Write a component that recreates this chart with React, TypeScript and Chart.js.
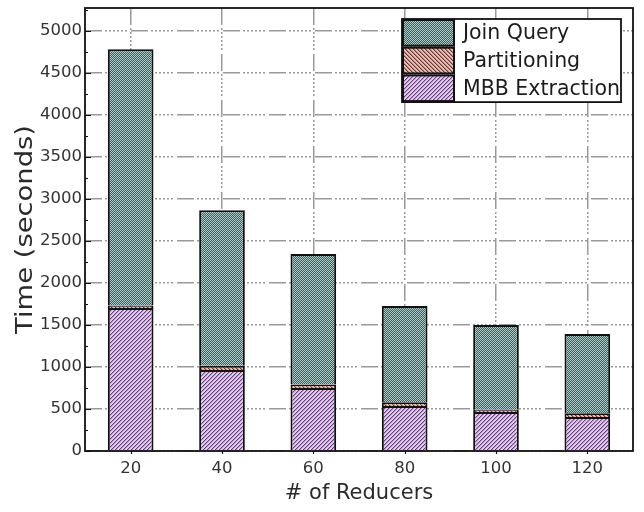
import { useEffect, useRef } from 'react';
import { Chart, registerables } from 'chart.js';

Chart.register(...registerables);

// Number of reducers on the x axis
const reducers = ['20', '40', '60', '80', '100', '120'];

// Stacked time components, in seconds
const mbbExtraction = [1700, 965, 750, 535, 465, 405];
const partitioning = [30, 50, 40, 45, 25, 45];
const joinQuery = [3050, 1850, 1555, 1146, 1010, 943];

// Value axis
const yTickValues = [0, 500, 1000, 1500, 2000, 2500, 3000, 3500, 4000, 4500, 5000];
const Y_MAX = 5270;
const Y_MINOR_STEP = 250;
const Y_TITLE = 'Time (seconds)';
const X_TITLE = '# of Reducers';

const FONT_FAMILY = "'DejaVu Sans', 'Liberation Sans', Arial, sans-serif";
const GRID_DASH = [17, 3, 2, 2, 2, 2, 2, 2, 2, 2, 2, 2, 2, 4];

Chart.defaults.font.family = FONT_FAMILY;
Chart.defaults.font.size = 16.5;

type PixelFn = (x: number, y: number) => string;

function makePattern(size: number, pixel: PixelFn): CanvasPattern {
  const c = document.createElement('canvas');
  c.width = size;
  c.height = size;
  const g = c.getContext('2d')!;
  for (let y = 0; y < size; y++) {
    for (let x = 0; x < size; x++) {
      g.fillStyle = pixel(x, y);
      g.fillRect(x, y, 1, 1);
    }
  }
  return g.createPattern(c, 'repeat')!;
}

export default function App() {
  const canvasRef = useRef<HTMLCanvasElement>(null);

  useEffect(() => {
    const canvas = canvasRef.current;
    if (!canvas) return;

    // Fill patterns: dotted teal, back-hatched salmon, forward-hatched lavender
    const joinFill = makePattern(2, (x, y) => ((x + y) % 2 === 0 ? '#a6d0cb' : '#475a59'));
    const partFill = makePattern(4, (x, y) => {
      const k = (((x - y) % 4) + 4) % 4;
      return k === 0 ? '#5a3a36' : k === 1 ? '#b0827a' : '#eebcb2';
    });
    const mbbFill = makePattern(4, (x, y) => {
      const k = (x + y) % 4;
      return k === 0 ? '#5e4270' : k === 1 ? '#b898c8' : '#e4c8f2';
    });

    const legendItems = [
      { text: 'Join Query', fill: joinFill },
      { text: 'Partitioning', fill: partFill },
      { text: 'MBB Extraction', fill: mbbFill },
    ];

    const framePlugin = {
      id: 'frameAndTicks',
      afterDatasetsDraw(chart: any) {
        const { ctx, chartArea: a, scales } = chart;
        const y = scales.y;
        const x = scales.x;
        ctx.save();
        ctx.strokeStyle = '#111';
        ctx.lineWidth = 1.2;
        ctx.beginPath();
        for (let v = 0; v <= Y_MAX; v += Y_MINOR_STEP) {
          const py = Math.round(y.getPixelForValue(v)) + 0.5;
          const len = yTickValues.includes(v) ? 6 : 3;
          ctx.moveTo(a.left, py);
          ctx.lineTo(a.left + len, py);
        }
        for (let i = 0; i < reducers.length; i++) {
          const px = Math.round(x.getPixelForValue(i)) + 0.5;
          ctx.moveTo(px, a.bottom);
          ctx.lineTo(px, a.bottom + 3);
        }
        ctx.stroke();
        ctx.lineWidth = 1.8;
        ctx.strokeRect(a.left, a.top, a.right - a.left, a.bottom - a.top);

        // Value-axis title, stretched along its baseline
        ctx.translate(26, (a.top + a.bottom) / 2);
        ctx.rotate(-Math.PI / 2);
        ctx.scale(1.19, 1);
        ctx.font = `23px ${FONT_FAMILY}`;
        ctx.fillStyle = '#2a2a2a';
        ctx.textAlign = 'center';
        ctx.textBaseline = 'middle';
        ctx.fillText(Y_TITLE, 0, 0);
        ctx.restore();
      },
    };

    const legendPlugin = {
      id: 'insideLegend',
      afterDraw(chart: any) {
        const { ctx, chartArea: a } = chart;
        const right = a.right - 12;
        const top = a.top + 11;
        const width = 219;
        const rowH = 27.7;
        const swW = 53;
        const left = right - width;
        const height = rowH * legendItems.length;
        ctx.save();
        ctx.fillStyle = '#fff';
        ctx.fillRect(left, top, width, height);
        ctx.font = `20.5px ${FONT_FAMILY}`;
        ctx.textBaseline = 'middle';
        ctx.textAlign = 'left';
        legendItems.forEach((item, i) => {
          const ry = top + i * rowH;
          ctx.fillStyle = item.fill;
          ctx.fillRect(left, ry, swW, rowH);
          ctx.strokeStyle = '#111';
          ctx.lineWidth = 2;
          ctx.strokeRect(left + 1, ry + 1, swW - 2, rowH - 2);
          ctx.fillStyle = '#1c1c1c';
          ctx.fillText(item.text, left + 61, ry + rowH / 2 + 1);
        });
        ctx.strokeStyle = '#111';
        ctx.lineWidth = 1.8;
        ctx.strokeRect(left, top, width, height);
        ctx.restore();
      },
    };

    const tickFont = { family: FONT_FAMILY, size: 16.5 };
    const titleFont = { family: FONT_FAMILY, size: 21 };

    const chart = new Chart(canvas, {
      type: 'bar',
      data: {
        labels: reducers,
        datasets: [
          { label: 'MBB Extraction', data: mbbExtraction, backgroundColor: mbbFill },
          { label: 'Partitioning', data: partitioning, backgroundColor: partFill },
          { label: 'Join Query', data: joinQuery, backgroundColor: joinFill },
        ].map((d) => ({
          ...d,
          borderColor: '#111',
          borderWidth: 2,
          barPercentage: 0.5,
          categoryPercentage: 1,
        })),
      },
      options: {
        responsive: false,
        animation: false,
        devicePixelRatio: 1,
        layout: { padding: { top: 8, right: 11, left: 0, bottom: 0 } },
        plugins: {
          legend: { display: false },
          tooltip: { enabled: false },
        },
        scales: {
          x: {
            stacked: true,
            offset: true,
            grid: { offset: false, color: '#9a9a9a', lineWidth: 1.5, drawTicks: false },
            border: { display: false, dash: GRID_DASH },
            ticks: { font: tickFont, color: '#333', padding: 8 },
            title: {
              display: true,
              text: X_TITLE,
              font: titleFont,
              color: '#2a2a2a',
              padding: { top: 0, bottom: 6 },
            },
            afterFit: (s: any) => {
              s.height = 61;
              s.paddingLeft = 0;
              s.paddingRight = 0;
            },
          },
          y: {
            stacked: true,
            min: 0,
            max: Y_MAX,
            afterBuildTicks: (s: any) => {
              s.ticks = yTickValues.map((value) => ({ value }));
            },
            grid: { color: '#9a9a9a', lineWidth: 1.5, drawTicks: false },
            border: { display: false, dash: GRID_DASH },
            ticks: {
              font: tickFont,
              color: '#333',
              padding: 3,
              callback: (v: any) => String(v),
            },
            afterFit: (s: any) => {
              s.width = 85;
              s.paddingTop = 0;
              s.paddingBottom = 0;
            },
          },
        },
      } as any,
      plugins: [framePlugin, legendPlugin],
    });

    return () => chart.destroy();
  }, []);

  return (
    <div style={{ position: 'absolute', left: 0, top: 0, width: 644, height: 512, background: '#fff' }}>
      <canvas ref={canvasRef} width={644} height={512} style={{ display: 'block' }} />
    </div>
  );
}
